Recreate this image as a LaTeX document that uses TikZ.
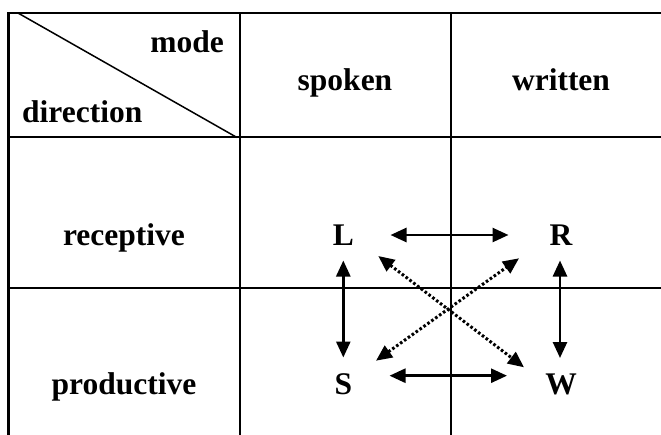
\documentclass[tikz,border=0pt]{standalone}
\usepackage{fontspec}
\setmainfont{Liberation Serif}
\usetikzlibrary{arrows.meta}
\tikzset{
  grid/.style={line width=2.4pt, line cap=rect},
  diag/.style={line width=1.5pt},
  lbl/.style={font=\fontsize{31.5}{38}\selectfont\bfseries, inner sep=0pt, anchor=base},
  tip/.style={Triangle[length=16pt,width=14pt]},
  arr/.style={line width=2.6pt, {Triangle[length=16pt,width=14pt]}-{Triangle[length=16pt,width=14pt]}},
  darr/.style={line width=3pt, dash pattern=on 2.6pt off 2.2pt, {Triangle[length=16pt,width=14pt]}-{Triangle[length=16pt,width=14pt]}}
}
\begin{document}
\begin{tikzpicture}[x=1pt,y=-1pt]
\useasboundingbox (0,0) rectangle (661,434);
% table grid
\coordinate (TL) at (8.5,13);
\coordinate (TR) at (661,13);
\coordinate (BL) at (8.5,434);
\coordinate (C1t) at (240,13);
\coordinate (C1b) at (240,434);
\coordinate (C2t) at (451,13);
\coordinate (C2b) at (451,434);
\coordinate (H1l) at (8.5,137);
\coordinate (H1r) at (661,137);
\coordinate (H2l) at (8.5,288);
\coordinate (H2r) at (661,288);
\coordinate (Ds) at (18,13);
\coordinate (De) at (237,137.5);
\draw[grid] (TR) -- (TL) -- (BL);
\draw[grid] (C1t) -- (C1b);
\draw[grid] (C2t) -- (C2b);
\draw[grid] (H1l) -- (H1r);
\draw[grid] (H2l) -- (H2r);
\draw[diag] (Ds) -- (De);
% header texts
\node[lbl, anchor=base east] (mode) at (224,52) {mode};
\node[lbl, anchor=base west] (direction) at (22,122) {direction};
\node[lbl] (spoken) at (345,90) {spoken};
\node[lbl] (written) at (561,90) {written};
\node[lbl] (receptive) at (124,245) {receptive};
\node[lbl] (productive) at (124,394) {productive};
% skills
\node[lbl] (L) at (343.5,245) {L};
\node[lbl] (R) at (561,245) {R};
\node[lbl] (S) at (343.5,394) {S};
\node[lbl] (W) at (561,394) {W};
% arrow ends
\coordinate (LRa) at (390.5,235);
\coordinate (LRb) at (508.5,235);
\coordinate (SWa) at (389.5,375.7);
\coordinate (SWb) at (507,375.7);
\coordinate (LSa) at (343.3,260.5);
\coordinate (LSb) at (343.3,357.5);
\coordinate (RWa) at (560,260.5);
\coordinate (RWb) at (560,358);
\coordinate (LWa) at (378.3,256);
\coordinate (LWb) at (524,367.3);
\coordinate (SRa) at (376,360.7);
\coordinate (SRb) at (519,258.3);
\draw[arr] (LRa) -- (LRb);
\draw[arr] (SWa) -- (SWb);
\draw[arr] (LSa) -- (LSb);
\draw[arr] (RWa) -- (RWb);
\draw[darr] (LWa) -- (LWb);
\draw[darr] (SRa) -- (SRb);
\end{tikzpicture}
\end{document}
